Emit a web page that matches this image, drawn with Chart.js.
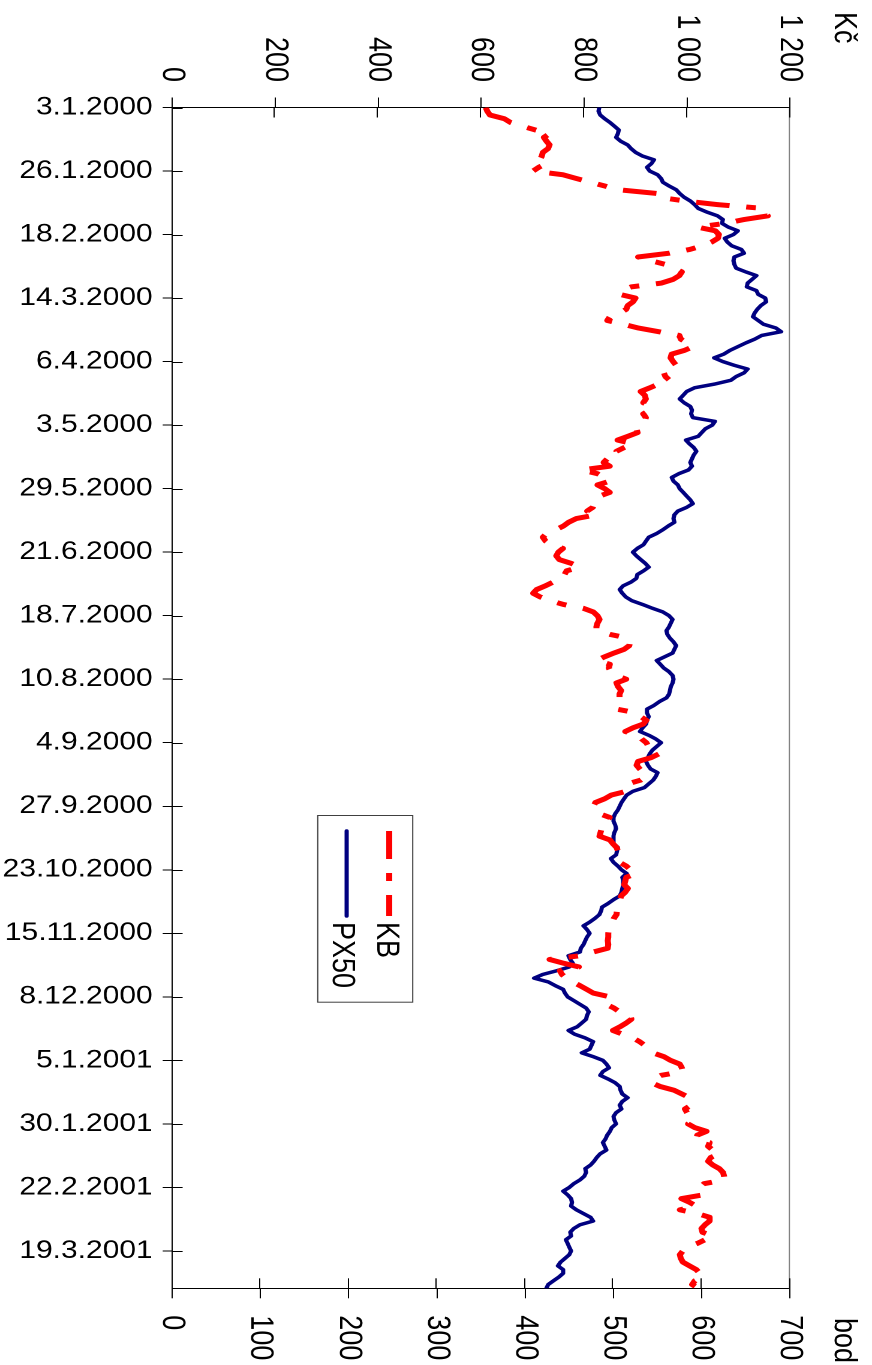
<!DOCTYPE html>
<html><head><meta charset="utf-8">
<script src="https://cdn.jsdelivr.net/npm/chart.js@4.4.1/dist/chart.umd.min.js"></script>
<style>
html,body{margin:0;padding:0;background:#fff;width:872px;height:1365px;overflow:hidden}
#wrap{position:absolute;left:0;top:0;width:1365px;height:727px;transform-origin:0 0;transform:translate(872px,0) scale(1.1994,1) rotate(90deg);}
</style></head><body>
<div id="wrap"><canvas id="c" width="1365" height="727"></canvas></div>
<script>
// category tick labels (every 17th trading day)
const tickLabels = ['3.1.2000','26.1.2000','18.2.2000','14.3.2000','6.4.2000','3.5.2000','29.5.2000','21.6.2000','18.7.2000','10.8.2000','4.9.2000','27.9.2000','23.10.2000','15.11.2000','8.12.2000','5.1.2001','30.1.2001','22.2.2001','19.3.2001'];
const tickStep = 17;
const seriesNames = ['KB','PX50'];
const kcTicks = [0,200,400,600,800,1000,1200];
const bodTicks = [0,100,200,300,400,500,600,700];

// KB share price (Kč), one value per trading day
const kbValues = [
609,612,617,645,657,680,705,733,722,727,733,730,720,718,714,727,712,
701,759,785,812,840,866,941,945,995,1060,1148,1150,1157,1110,1075,1020,1055,
1062,1060,1048,1030,1005,965,905,930,958,975,990,985,973,950,892,872,869,
900,895,885,882,870,850,845,876,905,945,985,988,1000,1012,995,970,968,
973,979,962,955,958,966,945,928,910,918,920,915,930,928,915,920,918,
910,902,904,885,865,895,878,863,866,845,838,850,795,826,840,850,826,
840,850,830,824,820,817,806,824,785,770,760,745,727,720,725,735,759,
750,746,752,775,792,766,762,759,740,725,708,701,715,735,760,798,818,
826,830,826,824,824,850,885,889,888,878,858,840,824,850,848,852,863,
882,863,866,872,869,869,869,865,863,902,910,921,915,895,880,905,912,
921,925,928,945,930,905,902,908,915,921,910,885,884,882,853,840,822,
818,822,830,850,840,834,834,832,830,850,856,863,866,869,870,869,882,
890,902,882,880,878,885,880,872,870,866,865,864,863,858,855,850,848,
847,847,846,847,846,818,792,733,760,790,753,757,765,778,792,805,818,
850,846,843,858,869,890,892,882,870,856,875,895,908,918,925,934,955,
968,986,990,992,950,935,931,948,975,990,1005,1006,1008,996,1000,1005,1012,
1002,1015,1038,1020,1018,1044,1041,1050,1063,1046,1041,1050,1063,1070,1072,1073,1033,
1025,1029,1031,989,1005,1018,986,1020,1044,1044,1035,1028,1030,1050,1035,1020,999,
992,986,988,992,1005,1018,1025,1031,1015,1010,1022];

// PX50 index (bod), one value per trading day
const px50Values = [
484,483,485,490,496,501,506,505,503,508,516,520,525,533,546,543,538,
541,550,554,556,563,571,575,580,587,592,596,606,618,624,623,630,641,
636,626,629,634,645,648,637,636,637,639,650,662,657,652,651,662,664,
672,673,667,663,660,658,664,670,684,690,668,660,650,641,632,625,614,
624,637,652,648,639,633,615,592,583,579,575,580,587,589,588,590,615,
612,604,600,596,582,586,591,594,591,589,587,589,585,574,566,568,573,
575,579,583,587,590,583,573,569,568,569,562,556,549,540,537,534,527,
522,526,531,536,540,534,527,526,520,511,507,510,514,521,533,544,556,
563,567,565,563,560,561,564,568,571,569,567,558,549,553,557,563,567,
568,567,565,564,563,560,552,546,538,538,540,538,537,533,530,540,548,
554,549,544,541,539,537,539,542,550,548,545,540,535,522,515,512,509,
507,505,502,500,500,502,503,501,500,500,500,505,504,503,497,500,505,
509,515,510,511,511,510,509,507,500,494,487,486,484,479,473,466,470,
473,470,468,466,463,462,449,451,454,450,436,420,410,426,434,443,445,
448,455,462,469,472,470,469,464,459,449,456,468,477,475,473,464,477,
488,492,495,488,485,494,502,507,508,510,516,510,507,509,503,500,501,
503,498,496,493,491,488,490,492,485,481,478,474,468,469,467,462,455,
450,443,448,452,453,452,458,466,474,477,462,455,451,452,446,448,450,
452,450,445,440,437,443,443,438,432,426,424];

const FONT = "'Liberation Sans', Arial, sans-serif";
const KB_COLOR = '#FF0000', PX_COLOR = '#000080';
const KB_DASH = [28,14,8,14];

function fmtThousands(v){ return v >= 1000 ? Math.floor(v/1000) + ' ' + String(v%1000).padStart(3,'0') : String(v); }

const framePlugin = {
  id: 'frame',
  beforeDatasetsDraw(chart){
    const {ctx, chartArea:a, scales} = chart;
    ctx.save();
    ctx.lineWidth = 1;
    ctx.strokeStyle = '#808080';
    ctx.beginPath(); ctx.moveTo(a.left, a.top+0.5); ctx.lineTo(a.right, a.top+0.5); ctx.stroke();
    ctx.strokeStyle = '#000';
    const ln = (x1,y1,x2,y2)=>{ctx.beginPath();ctx.moveTo(x1,y1);ctx.lineTo(x2,y2);ctx.stroke();};
    scales.x.ticks.forEach(t=>{const p=Math.round(scales.x.getPixelForValue(t.value))+0.5; ln(p,a.bottom,p,a.bottom-8.7);});
    scales.yKc.ticks.forEach(t=>{const p=Math.round(scales.yKc.getPixelForValue(t.value))+0.5; ln(a.left,p,a.left+10,p);});
    scales.yBod.ticks.forEach(t=>{const p=Math.round(scales.yBod.getPixelForValue(t.value))+0.5; ln(a.right,p,a.right-10,p);});
    ctx.restore();
  },
  afterDraw(chart){
    const {ctx, chartArea:a} = chart;
    ctx.save();
    // axis titles
    ctx.fillStyle = '#000';
    ctx.font = '27px ' + FONT;
    ctx.textAlign = 'left'; ctx.textBaseline = 'alphabetic';
    ctx.fillText('Kč', 12, 31);
    ctx.fillText('bod', 1318, 31);
    // legend
    const bx = 815, by = 382.4, bw = 186.7, bh = 79.2;
    ctx.fillStyle = '#fff'; ctx.fillRect(bx, by, bw, bh);
    ctx.strokeStyle = '#404040'; ctx.lineWidth = 1; ctx.strokeRect(bx+0.5, by+0.5, bw, bh);
    const ds = chart.data.datasets;
    const rows = [402.5, 438];
    const base = [412.7, 449.4];
    ds.forEach((d,k)=>{
      ctx.save();
      ctx.strokeStyle = d.borderColor; ctx.lineWidth = d.borderWidth;
      ctx.setLineDash(d.borderDash || []);
      ctx.lineCap = d.borderDash ? 'butt' : 'round';
      ctx.beginPath(); ctx.moveTo(831, rows[k]); ctx.lineTo(916, rows[k]); ctx.stroke();
      ctx.restore();
      ctx.fillStyle = '#000'; ctx.font = '27px ' + FONT;
      ctx.textAlign = 'left'; ctx.textBaseline = 'alphabetic';
      ctx.fillText(d.label, 922, base[k]);
    });
    ctx.restore();
  }
};

const ctx = document.getElementById('c').getContext('2d');
new Chart(ctx, {
  type: 'line',
  data: {
    datasets: [
      { label: seriesNames[0], data: kbValues.map((v,i)=>({x:i,y:v})), yAxisID: 'yKc',
        borderColor: KB_COLOR, backgroundColor: KB_COLOR, borderWidth: 5, borderDash: KB_DASH,
        borderCapStyle: 'butt', borderJoinStyle: 'round', pointRadius: 0, tension: 0, fill: false },
      { label: seriesNames[1], data: px50Values.map((v,i)=>({x:i,y:v})), yAxisID: 'yBod',
        borderColor: PX_COLOR, backgroundColor: PX_COLOR, borderWidth: 3.5,
        borderCapStyle: 'round', borderJoinStyle: 'round', pointRadius: 0, tension: 0, fill: false }
    ]
  },
  options: {
    responsive: false, animation: false, devicePixelRatio: 2,
    layout: { padding: { top: 68.4, left: 0, right: 0, bottom: 0 } },
    plugins: { legend: { display: false }, tooltip: { enabled: false }, title: { display: false } },
    scales: {
      x: {
        type: 'linear', position: 'bottom', min: 0, max: kbValues.length - 1, bounds: 'data',
        afterBuildTicks: s => { s.ticks = tickLabels.map((_,k)=>({value: k*tickStep})); },
        afterFit: s => { s.height = 143.6; },
        ticks: { autoSkip: false, minRotation: 90, maxRotation: 90, padding: 8.3, color: '#000',
          font: { family: FONT, size: 25 },
          callback: v => tickLabels[Math.round(v/tickStep)] ?? '' },
        grid: { drawOnChartArea: false, drawTicks: true, tickLength: 8, tickColor: '#000', tickWidth: 1 },
        border: { display: true, color: '#000', width: 1 }
      },
      yKc: {
        type: 'linear', position: 'left', min: 0, max: 1200,
        afterBuildTicks: s => { s.ticks = kcTicks.map(v=>({value:v})); },
        afterFit: s => { s.width = 107.5; },
        ticks: { padding: 15.5, color: '#000', font: { family: FONT, size: 27 }, callback: v => fmtThousands(v) },
        grid: { drawOnChartArea: false, tickLength: 10, tickColor: '#000', tickWidth: 1 },
        border: { display: true, color: '#000', width: 1 }
      },
      yBod: {
        type: 'linear', position: 'right', min: 0, max: 700,
        afterBuildTicks: s => { s.ticks = bodTicks.map(v=>({value:v})); },
        afterFit: s => { s.width = 76.7; },
        ticks: { padding: 17, color: '#000', font: { family: FONT, size: 27 }, callback: v => String(v) },
        grid: { drawOnChartArea: false, tickLength: 10, tickColor: '#000', tickWidth: 1 },
        border: { display: true, color: '#000', width: 1 }
      }
    }
  },
  plugins: [framePlugin]
});
</script>
</body></html>
